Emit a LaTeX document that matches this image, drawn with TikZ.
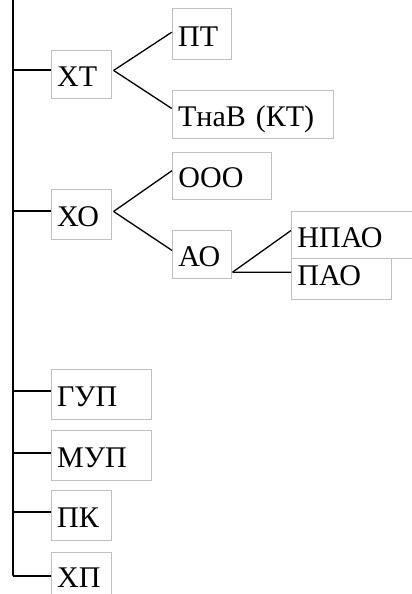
\documentclass[tikz,border=0pt]{standalone}
\usepackage{fontspec}
\setmainfont{Liberation Serif}
\usepackage{tkz-euclide}
\usetikzlibrary{calc}
\tikzset{
  orgbox/.style={draw=black!25, fill=white, line width=0.9pt, anchor=north west,
    inner xsep=6pt, inner ysep=0pt, align=left, text height=24pt, text depth=0pt,
    font=\fontsize{30}{31}\selectfont},
  trunk/.style={line width=2pt},
  branch/.style={line width=1.3pt}
}
\begin{document}
\begin{tikzpicture}[x=1pt,y=-1pt]
\clip (0,0) rectangle (412,594);
\fill[white] (0,0) rectangle (412,594);
\tkzDefPoint(12.7,0){T_1}
\tkzDefPoint(12.7,575){T_2}
% first level
\node[orgbox, text width=48pt, minimum height=48pt] (XT) at (50.7,50) {ХТ};
\node[orgbox, text width=48pt, minimum height=50pt] (XO) at (50.7,189) {ХО};
\node[orgbox, text width=88pt, minimum height=50pt] (GUP) at (50.7,369.3) {ГУП};
\node[orgbox, text width=88pt, minimum height=50pt] (MUP) at (50.7,430) {МУП};
\node[orgbox, text width=48pt, minimum height=50pt] (PK) at (50.7,490) {ПК};
\node[orgbox, text width=48pt, minimum height=43pt, text height=27pt] (XP) at (50.7,551.7) {ХП};
% second level
\node[orgbox, text width=47pt, minimum height=51pt] (PT) at (171.7,8.3) {ПТ};
\node[orgbox, text width=149pt, minimum height=48pt] (TnaV) at (171.7,90) {ТнаВ (КТ)};
\node[orgbox, text width=87pt, minimum height=47pt] (OOO) at (172,151.7) {ООО};
\node[orgbox, text width=47pt, minimum height=48pt] (AO) at (172,230) {АО};
% third level
\node[orgbox, text width=113pt, minimum height=47.3pt] (NPAO) at (291,211) {НПАО};
\node[orgbox, text width=88pt, minimum height=41pt, text height=12pt] (PAO) at (291,258.3) {ПАО};
% trunk
\tkzDrawSegment[trunk](T_1,T_2)
\draw[trunk] ($(T_1 |- XT.west)+(0,-4)$) -- ($(XT.west)+(0,-4)$);
\draw[trunk] ($(T_1 |- XO.west)+(0,-3)$) -- ($(XO.west)+(0,-3)$);
\draw[trunk] ($(T_1 |- GUP.west)+(0,-3.3)$) -- ($(GUP.west)+(0,-3.3)$);
\draw[trunk] ($(T_1 |- MUP.west)+(0,-2.3)$) -- ($(MUP.west)+(0,-2.3)$);
\draw[trunk] ($(T_1 |- PK.west)+(0,-3.3)$) -- ($(PK.west)+(0,-3.3)$);
\draw[trunk] ($(T_1 |- XP.west)+(0,2.6)$) -- ($(XP.west)+(0,2.6)$);
% branches
\draw[branch] ($(XT.east)+(2,-4)$) -- ($(PT.west)+(0,-2)$);
\draw[branch] ($(XT.east)+(2,-4)$) -- ($(TnaV.west)+(0,-6)$);
\draw[branch] ($(XO.east)+(2,-3)$) -- ($(OOO.west)+(0,-5)$);
\draw[branch] ($(XO.east)+(2,-3)$) -- ($(AO.west)+(0,-4)$);
\draw[branch] ($(AO.east)+(0.7,17.7)$) -- ($(NPAO.west)+(0,-4.6)$);
\draw[branch] ($(AO.east)+(0.7,17.7)$) -- ($(PAO.west)+(0,-7)$);
\end{tikzpicture}
\end{document}
